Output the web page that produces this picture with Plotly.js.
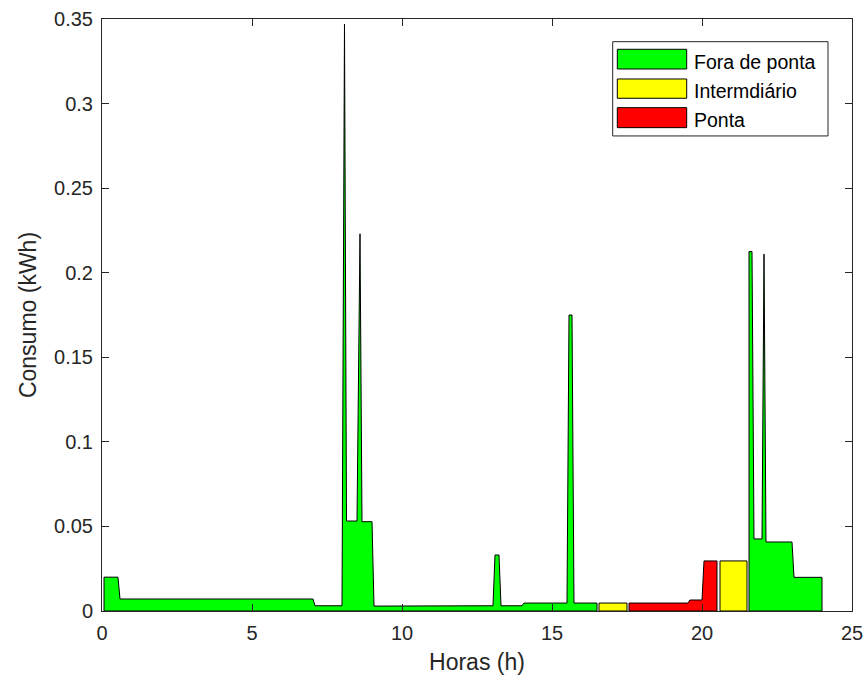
<!DOCTYPE html>
<html>
<head>
<meta charset="utf-8">
<script src="https://cdn.plot.ly/plotly-3.0.1.min.js"></script>
<style>
html,body{margin:0;padding:0;background:#fff;}
#chart{width:866px;height:684px;}
</style>
</head>
<body>
<div id="chart"></div>
<script>
// ---- Data (hours, kWh) ----
const foraPontaManhaX = [0.067, 0.533, 0.6, 7.033, 7.1, 8.0, 8.083, 8.15, 8.5, 8.6, 8.667, 9.0, 9.067, 13.033, 13.1, 13.233, 13.3, 14.0, 14.067, 15.5, 15.567, 15.667, 15.733, 16.5];
const foraPontaManhaY = [0.020, 0.020, 0.0071, 0.0071, 0.0031, 0.0031, 0.347, 0.0532, 0.0532, 0.223, 0.0528, 0.0528, 0.0029, 0.0031, 0.0331, 0.0331, 0.0031, 0.0031, 0.0047, 0.0047, 0.175, 0.175, 0.0047, 0.0047];

const intermediario1X = [16.567, 17.5];
const intermediario1Y = [0.0047, 0.0047];

const pontaX = [17.567, 19.533, 19.6, 20.0, 20.067, 20.5];
const pontaY = [0.0047, 0.0047, 0.0065, 0.0065, 0.0296, 0.0296];

const intermediario2X = [20.6, 21.5];
const intermediario2Y = [0.0296, 0.0296];

const foraPontaNoiteX = [21.567, 21.667, 21.733, 22.0, 22.067, 22.133, 23.0, 23.067, 24.0];
const foraPontaNoiteY = [0.2125, 0.2125, 0.0426, 0.0426, 0.211, 0.0408, 0.0408, 0.0199, 0.0199];

const legendLabels = ['Fora de ponta', 'Intermdiário', 'Ponta'];
const colors = {fora: '#00ff00', inter: '#ffff00', ponta: '#ff0000'};

// build a closed area polygon from a segment (MATLAB area style)
function areaTrace(xs, ys, color) {
  const x = [xs[0]].concat(xs, [xs[xs.length - 1], xs[0]]);
  const y = [0].concat(ys, [0, 0]);
  return {
    x: x, y: y, type: 'scatter', mode: 'lines',
    fill: 'toself', fillcolor: color,
    line: {color: '#000000', width: 1},
    hoverinfo: 'skip', showlegend: false
  };
}

const traces = [
  areaTrace(foraPontaManhaX, foraPontaManhaY, colors.fora),
  areaTrace(intermediario1X, intermediario1Y, colors.inter),
  areaTrace(pontaX, pontaY, colors.ponta),
  areaTrace(intermediario2X, intermediario2Y, colors.inter),
  areaTrace(foraPontaNoiteX, foraPontaNoiteY, colors.fora)
];

// plot area in pixels
const L = 102, R = 852, T = 19, B = 611.3;
const W = 866, H = 684;
const px = v => (v - L) / (R - L);
const py = v => (B - v) / (B - T);
const FONT = 'Liberation Sans, Arial, Helvetica, sans-serif';

const shapes = [];
const annotations = [];
// legend box
shapes.push({type: 'rect', xref: 'paper', yref: 'paper',
  x0: px(612.7), x1: px(828), y0: py(136), y1: py(41.7),
  line: {color: '#262626', width: 1}, fillcolor: '#ffffff', layer: 'above'});
const rows = [[49.3, 69], [79, 98.3], [107.7, 127.7]];
const rowColors = [colors.fora, colors.inter, colors.ponta];
rows.forEach((r, i) => {
  shapes.push({type: 'rect', xref: 'paper', yref: 'paper',
    x0: px(617.3), x1: px(686.7), y0: py(r[1]), y1: py(r[0]),
    line: {color: '#000000', width: 1}, fillcolor: rowColors[i], layer: 'above'});
  annotations.push({xref: 'paper', yref: 'paper', x: px(692), y: py((r[0] + r[1]) / 2 + 2.5),
    xanchor: 'left', yanchor: 'middle', showarrow: false, text: legendLabels[i],
    font: {family: FONT, size: 19.5, color: '#000000'}});
});

const axisCommon = {
  showline: true, linecolor: '#262626', linewidth: 1, mirror: 'ticks',
  ticks: 'inside', ticklen: 7, tickcolor: '#262626', tickwidth: 1,
  showgrid: false, zeroline: false,
  tickfont: {family: FONT, size: 20, color: '#262626'}
};

const layout = {
  width: W, height: H,
  margin: {l: L, r: W - R, t: T, b: H - B},
  paper_bgcolor: '#ffffff', plot_bgcolor: '#ffffff',
  showlegend: false,
  xaxis: Object.assign({}, axisCommon, {
    range: [0, 25], dtick: 5, tick0: 0, ticklabelstandoff: 4,
    title: {text: 'Horas (h)', font: {family: FONT, size: 23, color: '#262626'}, standoff: 10}
  }),
  yaxis: Object.assign({}, axisCommon, {
    range: [0, 0.35], dtick: 0.05, tick0: 0, ticklabelstandoff: 4,
    title: {text: 'Consumo (kWh)', font: {family: FONT, size: 23, color: '#262626'}, standoff: 11}
  }),
  shapes: shapes,
  annotations: annotations
};

Plotly.newPlot('chart', traces, layout, {displayModeBar: false, staticPlot: true});
</script>
</body>
</html>
